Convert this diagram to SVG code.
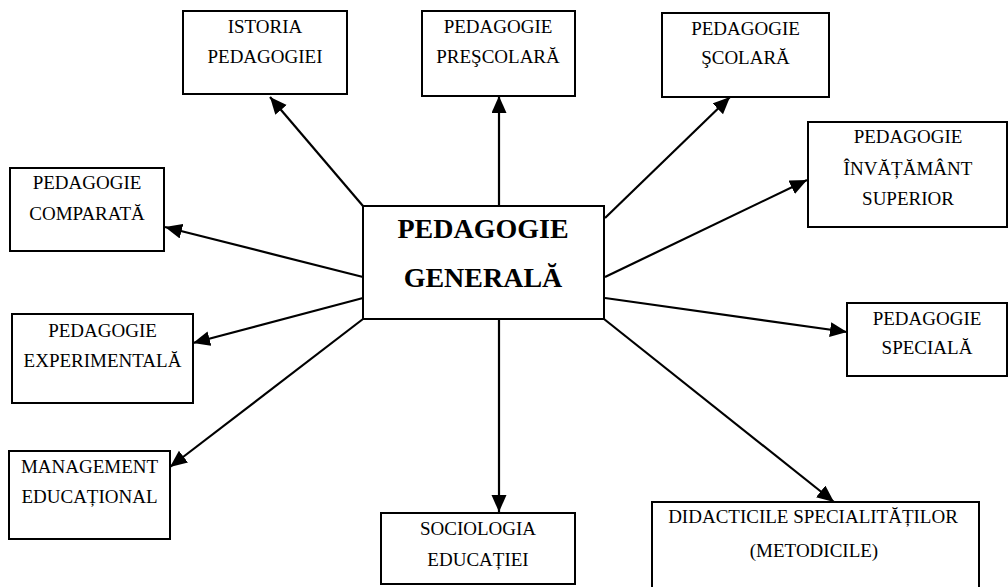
<svg xmlns="http://www.w3.org/2000/svg" width="1008" height="587" viewBox="0 0 1008 587">
<style>
.box{fill:#fff;stroke:#000;stroke-width:2}
.t{font-family:"Liberation Serif","Times New Roman",serif;font-size:19px;fill:#000;text-anchor:middle}
.tb{font-family:"Liberation Serif","Times New Roman",serif;font-size:28px;font-weight:bold;fill:#000;text-anchor:middle}
.c{stroke:#000;stroke-width:2.2;fill:none;marker-end:url(#ah)}
</style>
<defs>
<marker id="ah" markerUnits="userSpaceOnUse" markerWidth="18" markerHeight="16" refX="17" refY="7.5" orient="auto">
<path d="M0,0 L17,7.5 L0,15 z" fill="#000"/>
</marker>
</defs>
<rect width="1008" height="587" fill="#fff"/>
<g id="connectors">
<line class="c" x1="363" y1="206" x2="270" y2="97"/>
<line class="c" x1="499" y1="206" x2="499" y2="96"/>
<line class="c" x1="605" y1="218" x2="730" y2="97"/>
<line class="c" x1="605" y1="277" x2="807" y2="180"/>
<line class="c" x1="605" y1="298" x2="847" y2="332"/>
<line class="c" x1="604" y1="319" x2="834" y2="502"/>
<line class="c" x1="499" y1="319" x2="499" y2="512"/>
<line class="c" x1="363" y1="319" x2="170" y2="467"/>
<line class="c" x1="363" y1="298" x2="193" y2="343"/>
<line class="c" x1="363" y1="277" x2="165" y2="227"/>
</g>
<g id="center">
<rect class="box" x="363" y="206" width="241" height="113"/>
<text class="tb" x="483" y="238">PEDAGOGIE</text>
<text class="tb" x="483" y="287">GENERALĂ</text>
</g>
<g id="istoria">
<rect class="box" x="183" y="11" width="164" height="83"/>
<text class="t" x="265" y="33">ISTORIA</text>
<text class="t" x="265" y="63">PEDAGOGIEI</text>
</g>
<g id="prescolara">
<rect class="box" x="422" y="11" width="153" height="85"/>
<text class="t" x="498" y="33">PEDAGOGIE</text>
<text class="t" x="498" y="63">PREŞCOLARĂ</text>
</g>
<g id="scolara">
<rect class="box" x="662" y="13" width="167" height="84"/>
<text class="t" x="745.5" y="35">PEDAGOGIE</text>
<text class="t" x="745.5" y="64">ŞCOLARĂ</text>
</g>
<g id="superior">
<rect class="box" x="808" y="122" width="199" height="105"/>
<text class="t" x="908" y="143">PEDAGOGIE</text>
<text class="t" x="908" y="175">ÎNVĂȚĂMÂNT</text>
<text class="t" x="908" y="205">SUPERIOR</text>
</g>
<g id="comparata">
<rect class="box" x="10" y="168" width="154" height="83"/>
<text class="t" x="87" y="189">PEDAGOGIE</text>
<text class="t" x="87" y="220">COMPARATĂ</text>
</g>
<g id="experimentala">
<rect class="box" x="12" y="314" width="181" height="89"/>
<text class="t" x="102.5" y="337">PEDAGOGIE</text>
<text class="t" x="102.5" y="367">EXPERIMENTALĂ</text>
</g>
<g id="management">
<rect class="box" x="9" y="451" width="161" height="88"/>
<text class="t" x="89.5" y="473">MANAGEMENT</text>
<text class="t" x="89.5" y="503">EDUCAȚIONAL</text>
</g>
<g id="sociologia">
<rect class="box" x="381" y="513" width="194" height="71"/>
<text class="t" x="478" y="535">SOCIOLOGIA</text>
<text class="t" x="478" y="566">EDUCAȚIEI</text>
</g>
<g id="speciala">
<rect class="box" x="847" y="303" width="160" height="73"/>
<text class="t" x="927" y="325">PEDAGOGIE</text>
<text class="t" x="927" y="354">SPECIALĂ</text>
</g>
<g id="didacticile">
<rect class="box" x="652" y="502" width="327" height="100"/>
<text class="t" x="813" y="523">DIDACTICILE SPECIALITĂȚILOR</text>
<text class="t" x="814" y="557">(METODICILE)</text>
</g>
</svg>
